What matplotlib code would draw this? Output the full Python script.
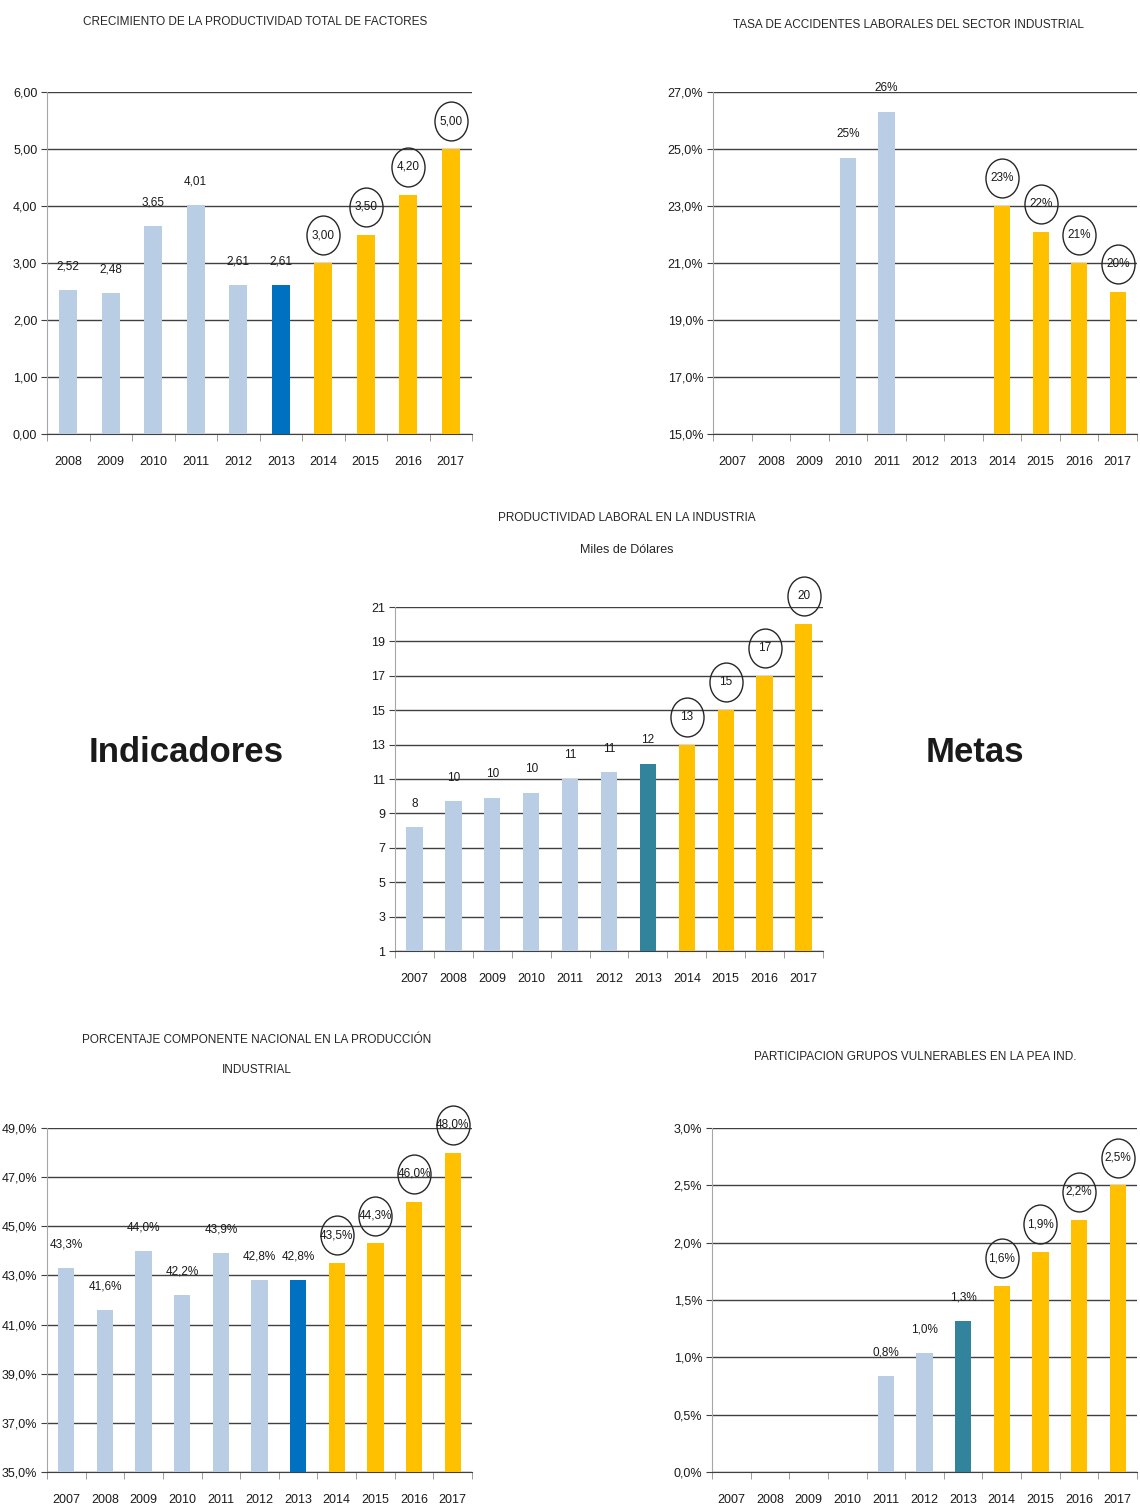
import numpy as np
import matplotlib
matplotlib.use("Agg")
import matplotlib.pyplot as plt
from matplotlib.path import Path
from matplotlib.transforms import offset_copy

plt.rcParams['font.family'] = ['Liberation Sans Narrow', 'Liberation Sans', 'DejaVu Sans']

W, H = 1140, 1512

LIGHT = '#B9CDE5'
GOLD = '#FFC000'
BLUE = '#0070C0'
TEAL = '#31849B'
TXT = '#1A1A1A'

# --- data ---
years_ptf = [2008, 2009, 2010, 2011, 2012, 2013, 2014, 2015, 2016, 2017]
ptf = [2.52, 2.48, 3.65, 4.01, 2.61, 2.61, 3.00, 3.50, 4.20, 5.00]

years = [2007, 2008, 2009, 2010, 2011, 2012, 2013, 2014, 2015, 2016, 2017]
accidentes = [None, None, None, 24.7, 26.3, None, None, 23.0, 22.1, 21.0, 20.0]
productividad = [8.2, 9.7, 9.9, 10.2, 11.0, 11.4, 11.9, 13.0, 15.0, 17.0, 20.0]
componente = [43.3, 41.6, 44.0, 42.2, 43.9, 42.8, 42.8, 43.5, 44.3, 46.0, 48.0]
vulnerables = [None, None, None, None, 0.84, 1.04, 1.32, 1.62, 1.92, 2.2, 2.5]

ticks_ptf = [0, 1, 2, 3, 4, 5, 6]
ticklab_ptf = ["0,00", "1,00", "2,00", "3,00", "4,00", "5,00", "6,00"]
ticks_acc = [15, 17, 19, 21, 23, 25, 27]
ticklab_acc = ["15,0%", "17,0%", "19,0%", "21,0%", "23,0%", "25,0%", "27,0%"]
ticks_prod = [1, 3, 5, 7, 9, 11, 13, 15, 17, 19, 21]
ticklab_prod = ["1", "3", "5", "7", "9", "11", "13", "15", "17", "19", "21"]
ticks_comp = [35, 37, 39, 41, 43, 45, 47, 49]
ticklab_comp = ["35,0%", "37,0%", "39,0%", "41,0%", "43,0%", "45,0%", "47,0%", "49,0%"]
ticks_vul = [0, 0.5, 1.0, 1.5, 2.0, 2.5, 3.0]
ticklab_vul = ["0,0%", "0,5%", "1,0%", "1,5%", "2,0%", "2,5%", "3,0%"]

# slightly tall ellipse used to circle the target values
circ = Path.unit_circle()
ell = Path(circ.vertices * [0.85, 1.0], circ.codes)

fig = plt.figure(figsize=(W / 100, H / 100), dpi=100)


def draw_chart(box, cats, values, ylim, yticks, yticklabels, fmt, highlight):
	# box = left, top, right, bottom in pixels
	l, t, r, b = box
	ax = fig.add_axes([l / W, 1 - b / H, (r - l) / W, (b - t) / H])
	for i, (yr, v) in enumerate(zip(cats, values)):
		if v is None:
			continue
		if yr < 2013:
			color = LIGHT
		elif yr == 2013:
			color = highlight
		else:
			color = GOLD
		ax.bar(i, v, width=0.42, color=color, zorder=3)
		label = fmt(v)
		if yr >= 2014:
			tr = offset_copy(ax.transData, fig=fig, y=20, units='points')
			ax.plot(i, v, marker=ell, ms=28, mfc='none', mec='#262626', mew=1.0,
					transform=tr, clip_on=False, zorder=4)
			ax.text(i, v, label, transform=tr, ha='center', va='center',
					fontsize=8.5, color=TXT, zorder=5)
		else:
			ax.annotate(label, (i, v), xytext=(0, 17), textcoords='offset points',
						ha='center', va='center', fontsize=8.5, color=TXT, zorder=5)
	n = len(cats)
	ax.set_xlim(-0.5, n - 0.5)
	ax.set_ylim(*ylim)
	ax.set_yticks(yticks)
	ax.set_yticklabels(yticklabels)
	ax.set_xticks(np.arange(n))
	ax.set_xticklabels([str(c) for c in cats])
	ax.set_xticks(np.arange(n + 1) - 0.5, minor=True)
	ax.tick_params(axis='x', which='major', length=0, pad=16, labelsize=9, labelcolor=TXT)
	ax.tick_params(axis='x', which='minor', length=5, color='#8C8C8C')
	ax.tick_params(axis='y', length=4, color='#404040', pad=3, labelsize=9, labelcolor=TXT)
	ax.yaxis.grid(True, color='#404040', lw=1)
	ax.set_axisbelow(True)
	ax.spines['top'].set_visible(False)
	ax.spines['right'].set_visible(False)
	ax.spines['left'].set_color('#A6A6A6')
	ax.spines['bottom'].set_color('#404040')
	return ax


draw_chart((47, 92, 472, 434), years_ptf, ptf, (0, 6), ticks_ptf, ticklab_ptf,
		   lambda v: ("%.2f" % v).replace('.', ','), BLUE)
draw_chart((713, 92, 1137, 434), years, accidentes, (15, 27), ticks_acc, ticklab_acc,
		   lambda v: "%.0f%%" % v, TEAL)
draw_chart((395, 607, 823, 951), years, productividad, (1, 21), ticks_prod, ticklab_prod,
		   lambda v: "%.0f" % v, TEAL)
draw_chart((47, 1128, 472, 1472), years, componente, (35, 49), ticks_comp, ticklab_comp,
		   lambda v: ("%.1f%%" % v).replace('.', ','), BLUE)
draw_chart((712, 1128, 1137, 1472), years, vulnerables, (0, 3), ticks_vul, ticklab_vul,
		   lambda v: ("%.1f%%" % v).replace('.', ','), TEAL)


def ftext(x, y, s, **kw):
	fig.text(x / W, 1 - y / H, s, ha='center', va='center', **kw)


ftext(255, 22, "CRECIMIENTO DE LA PRODUCTIVIDAD TOTAL DE FACTORES", fontsize=8.5, color='#262626')
ftext(908, 25, "TASA DE ACCIDENTES LABORALES DEL SECTOR INDUSTRIAL", fontsize=8.5, color='#262626')
ftext(627, 518, "PRODUCTIVIDAD LABORAL EN LA INDUSTRIA", fontsize=8.5, color='#262626')
ftext(627, 550, "Miles de Dólares", fontsize=9, color='#262626')
ftext(257, 1040, "PORCENTAJE COMPONENTE NACIONAL EN LA PRODUCCIÓN", fontsize=8.5, color='#262626')
ftext(257, 1070, "INDUSTRIAL", fontsize=8.5, color='#262626')
ftext(915, 1057, "PARTICIPACION GRUPOS VULNERABLES EN LA PEA IND.", fontsize=8.5, color='#262626')

ftext(186, 752, "Indicadores", fontsize=25, fontweight='bold', color='#1A1A1A')
ftext(975, 752, "Metas", fontsize=25, fontweight='bold', color='#1A1A1A')

plt.savefig('out.png', dpi=100)
